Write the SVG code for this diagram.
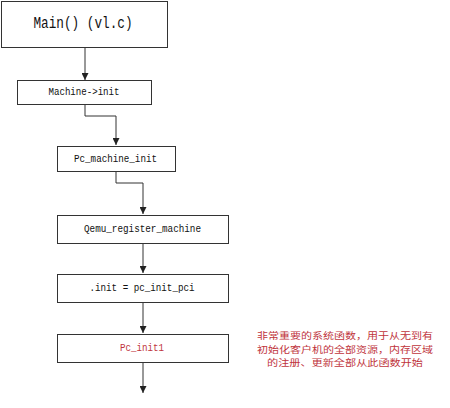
<svg xmlns="http://www.w3.org/2000/svg" width="450" height="408" viewBox="0 0 450 408">
  <style>
    .box { fill: #ffffff; stroke: #333333; stroke-width: 1; }
    .lbl { font-family: "Liberation Mono", "DejaVu Sans Mono", monospace; fill: #111111; text-anchor: middle; dominant-baseline: central; }
    .wire { fill: none; stroke: #333333; stroke-width: 1; marker-end: url(#arrow); }
    .note { font-family: "Noto Sans CJK SC", sans-serif; font-size: 9px; fill: #c0343c; text-anchor: middle; }
  </style>
  <defs>
    <marker id="arrow" viewBox="0 0 8 8" refX="8" refY="4" markerWidth="7" markerHeight="7" markerUnits="userSpaceOnUse" orient="auto">
      <path d="M0,0 L8,4 L0,8 Z" fill="#222222"/>
    </marker>
  </defs>
  <rect width="450" height="408" fill="#ffffff"/>

  <g id="connectors">
    <path class="wire" d="M85,48 V80"/>
    <path class="wire" d="M85,105 V116 H116 V145"/>
    <path class="wire" d="M116,171 V183 H143 V214"/>
    <path class="wire" d="M143,244 V273"/>
    <path class="wire" d="M143,303 V333"/>
    <path class="wire" d="M143,363 V393"/>
  </g>

  <g id="main">
    <rect class="box" x="1.5" y="1.5" width="166" height="46"/>
    <text class="lbl" x="83" y="24" font-size="16" textLength="99" lengthAdjust="spacingAndGlyphs">Main() (vl.c)</text>
  </g>

  <g id="machine-init">
    <rect class="box" x="17.5" y="80.5" width="134" height="24"/>
    <text class="lbl" x="84" y="92.5" font-size="10" textLength="71" lengthAdjust="spacingAndGlyphs">Machine-&gt;init</text>
  </g>

  <g id="pc-machine-init">
    <rect class="box" x="57.5" y="146.5" width="118" height="25"/>
    <text class="lbl" x="115.5" y="159" font-size="10" textLength="83" lengthAdjust="spacingAndGlyphs">Pc_machine_init</text>
  </g>

  <g id="qemu-register-machine">
    <rect class="box" x="57.5" y="215.5" width="171" height="28"/>
    <text class="lbl" x="142.5" y="229.5" font-size="10" textLength="117" lengthAdjust="spacingAndGlyphs">Qemu_register_machine</text>
  </g>

  <g id="init-pc-init-pci">
    <rect class="box" x="57.5" y="274.5" width="171" height="28"/>
    <text class="lbl" x="142" y="288.5" font-size="10" textLength="105" lengthAdjust="spacingAndGlyphs">.init = pc_init_pci</text>
  </g>

  <g id="pc-init1">
    <rect class="box" x="57.5" y="334.5" width="171" height="28"/>
    <text class="lbl" x="142" y="348.5" font-size="10" textLength="44" lengthAdjust="spacingAndGlyphs" style="fill:#c0343c">Pc_init1</text>
  </g>

  <g id="note">
    <text class="note" x="345" y="339" textLength="176" lengthAdjust="spacingAndGlyphs">非常重要的系统函数，用于从无到有</text>
    <text class="note" x="345" y="352.5" textLength="176" lengthAdjust="spacingAndGlyphs">初始化客户机的全部资源，内存区域</text>
    <text class="note" x="345" y="366" textLength="156" lengthAdjust="spacingAndGlyphs">的注册、更新全部从此函数开始</text>
  </g>
</svg>
